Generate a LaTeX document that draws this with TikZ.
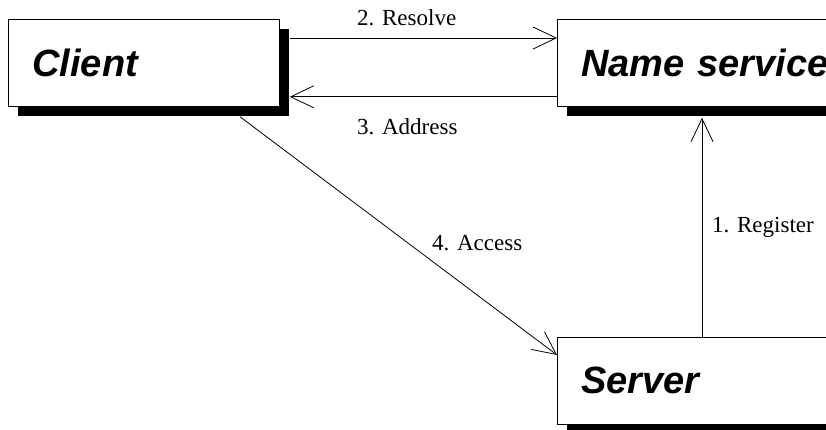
\documentclass[tikz,border=0pt]{standalone}
\usepackage{fontspec}
\setmainfont{Liberation Serif}
\setsansfont{Liberation Sans}
\usetikzlibrary{arrows.meta,shadows,calc}
\tikzset{
  objbox/.style={draw=black, line width=0.8pt, fill=white, anchor=north west,
    minimum height=87pt, inner xsep=24pt, inner ysep=0pt, align=left,
    font=\sffamily\bfseries\itshape\fontsize{38}{40}\selectfont,
    drop shadow={shadow xshift=10pt, shadow yshift=-10pt, fill=black, opacity=1}},
  msg/.style={draw=black, line width=0.8pt,
    -{Straight Barb[length=23pt,width=22pt,line width=0.8pt]}},
  msglabel/.style={anchor=base west, inner sep=0pt, font=\fontsize{23}{26}\selectfont}
}
\begin{document}
\begin{tikzpicture}[x=1pt,y=-1pt]
\useasboundingbox (0,0) rectangle (826,430);
\clip (0,0) rectangle (826,430);
\node[objbox, text width=223pt] (client) at (8,19) {Client};
\node[objbox, text width=260pt] (ns) at (557,19) {Name service};
\node[objbox, text width=223pt] (server) at (557,337) {Server};
\draw[msg] ($(client.north east)+(10,19)$) -- ($(ns.north west)+(0,19)$);
\draw[msg] ($(ns.south west)+(0,-10)$) -- ($(client.south east)+(10,-10)$);
\draw[msg] ($(server.north west)+(145,0)$) -- ($(ns.south west)+(145,11)$);
\draw[msg] ($(client.south west)+(232,10)$) -- ($(server.north west)+(0,18)$);
\node[msglabel] (l2) at (357,26) {2. Resolve};
\node[msglabel] (l3) at (357,135) {3. Address};
\node[msglabel] (l4) at (432,250) {4. Access};
\node[msglabel] (l1) at (712,233) {1. Register};
\end{tikzpicture}
\end{document}
